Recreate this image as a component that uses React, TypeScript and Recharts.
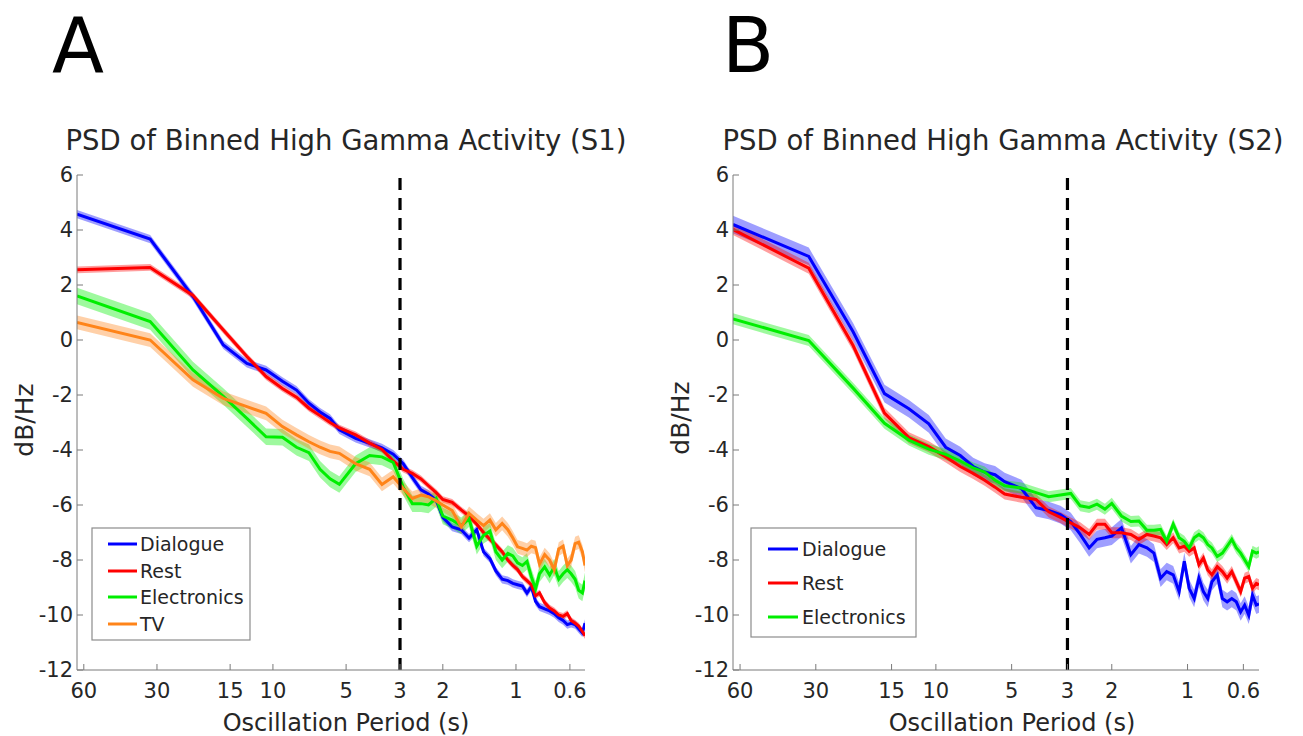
import React from 'react';
import { ComposedChart, Line, Area, XAxis, YAxis, ReferenceLine } from 'recharts';

// oscillation period (s) of each spectral bin, 64 / k
const periods = [
  64, 32, 21.33, 16, 12.8, 10.67, 9.14, 8, 7.11, 6.4, 5.82, 5.33,
  4.57, 4, 3.56, 3.2, 2.91, 2.67, 2.46, 2.29, 2.13, 2,
  1.83, 1.68, 1.56, 1.45, 1.36, 1.28, 1.21, 1.14, 1.08, 1.03,
  0.985, 0.941, 0.901, 0.865, 0.831, 0.8, 0.762, 0.727, 0.696, 0.667,
  0.64, 0.615, 0.593, 0.571, 0.552, 0.533, 0.52,
];
const periodTicks = [60, 30, 15, 10, 5, 3, 2, 1, 0.6];
const dbTicks = [-12, -10, -8, -6, -4, -2, 0, 2, 4, 6];

// S1 (dB/Hz)
const s1Dialogue = [
  4.58, 3.67, 1.58, -0.18, -0.85, -1.09, -1.5, -1.82, -2.3, -2.62, -2.85, -3.27,
  -3.58, -3.76, -3.92, -4.15, -4.5, -5.0, -5.45, -5.6, -5.82, -6.45,
  -6.8, -6.9, -7.2, -6.9, -7.7, -7.95, -8.4, -8.7, -8.75, -8.85,
  -8.9, -8.95, -9.2, -8.97, -9.5, -9.7, -9.78, -9.85, -9.95, -10.1,
  -10.2, -10.35, -10.3, -10.35, -10.5, -10.65, -10.3,
];
const s1Rest = [
  2.55, 2.64, 1.62, 0.36, -0.6, -1.33, -1.76, -2.08, -2.48, -2.75, -3.0, -3.2,
  -3.45, -3.75, -3.98, -4.4, -4.7, -4.85, -5.05, -5.3, -5.55, -5.8,
  -5.9, -6.18, -6.4, -6.7, -7.0, -7.25, -7.45, -7.7, -8.0, -8.2,
  -8.35, -8.6, -8.75, -8.9, -9.3, -9.2, -9.55, -9.75, -9.85, -10.0,
  -10.05, -9.95, -10.2, -10.3, -10.4, -10.6, -10.75,
];
const s1Electronics = [
  1.6, 0.67, -1.09, -2.05, -2.85, -3.52, -3.54, -3.9, -4.1, -4.7, -5.05, -5.25,
  -4.5, -4.2, -4.25, -4.45, -5.35, -5.95, -5.95, -6.0, -5.76, -6.4,
  -6.55, -6.75, -6.5, -7.5, -7.1, -6.95, -7.7, -8.0, -7.76, -7.85,
  -8.1, -8.2, -8.05, -8.6, -9.05, -8.5, -8.25, -8.55, -8.25, -8.7,
  -8.5, -8.35, -8.5, -8.7, -9.1, -9.2, -8.75,
];
const s1TV = [
  0.64, 0.0, -1.45, -2.12, -2.42, -2.67, -3.15, -3.45, -3.7, -3.9, -4.05, -4.12,
  -4.5, -4.7, -5.25, -4.97, -5.4, -5.76, -5.64, -5.7, -5.85, -6.0,
  -6.2, -6.8, -6.3, -6.55, -6.75, -6.55, -6.9, -6.67, -6.9, -7.2,
  -7.52, -7.58, -7.64, -7.5, -7.55, -8.15, -7.8, -8.0, -8.36, -7.6,
  -7.5, -8.2, -8.0, -7.4, -7.35, -7.7, -8.2,
];

// S2 (dB/Hz)
const s2Dialogue = [
  4.2, 3.04, 0.3, -1.95, -2.5, -3.05, -3.9, -4.2, -4.6, -4.8, -4.9, -5.15,
  -5.4, -6.1, -6.2, -6.35, -6.6, -7.07, -7.56, -7.25, -7.19, -7.13,
  -6.83, -7.81, -7.44, -7.56, -7.75, -8.66, -8.42, -8.54, -9.15, -8.05,
  -9.03, -9.4, -8.66, -9.15, -9.4, -8.79, -8.54, -9.4, -9.52, -9.4,
  -9.52, -9.89, -9.64, -10.01, -9.28, -9.64, -9.6,
];
const s2Rest = [
  4.02, 2.61, -0.2, -2.66, -3.55, -3.88, -4.25, -4.6, -4.85, -5.1, -5.35, -5.6,
  -5.72, -5.8, -6.25, -6.45, -6.65, -6.83, -7.07, -6.7, -6.7, -7.01,
  -7.01, -7.07, -7.25, -7.07, -7.13, -7.19, -7.44, -7.19, -7.56, -7.5,
  -7.68, -7.56, -8.17, -7.93, -8.36, -8.54, -8.24, -8.42, -8.66, -8.42,
  -8.79, -9.15, -8.66, -8.6, -9.03, -8.85, -8.9,
];
const s2Electronics = [
  0.77, -0.02, -1.75, -3.03, -3.64, -3.97, -4.16, -4.4, -4.65, -4.8, -5.1, -5.3,
  -5.38, -5.55, -5.7, -5.64, -5.58, -6.03, -6.09, -5.97, -6.15, -5.94,
  -6.4, -6.6, -6.58, -6.92, -6.92, -6.89, -7.32, -6.7, -7.19, -7.32,
  -7.56, -7.19, -7.07, -7.19, -7.44, -7.56, -7.87, -7.75, -7.5, -7.25,
  -7.56, -7.75, -7.99, -8.24, -7.68, -7.75, -7.7,
];

// half width of the shaded error band (dB)
const s1Spread = [0.15, 0.12, 0.3, 0.25];
const s2Spread = [0.32, 0.2, 0.2];

const COLORS: Record<string, string> = {
  Dialogue: '#0000ff',
  Rest: '#ff0000',
  Electronics: '#00ee00',
  TV: '#ff8419',
};

const AXIS = '#7a7a7a';
const TEXT = '#262626';
const FONT = '"DejaVu Sans", Verdana, sans-serif';

type Series = { name: string; values: number[]; spread: number };

const s1Series: Series[] = [
  { name: 'Dialogue', values: s1Dialogue, spread: s1Spread[0] },
  { name: 'Rest', values: s1Rest, spread: s1Spread[1] },
  { name: 'Electronics', values: s1Electronics, spread: s1Spread[2] },
  { name: 'TV', values: s1TV, spread: s1Spread[3] },
];
const s2Series: Series[] = [
  { name: 'Dialogue', values: s2Dialogue, spread: s2Spread[0] },
  { name: 'Rest', values: s2Rest, spread: s2Spread[1] },
  { name: 'Electronics', values: s2Electronics, spread: s2Spread[2] },
];

function buildRows(series: Series[]) {
  return periods.map((p, i) => {
    const row: any = { period: p };
    series.forEach((s, j) => {
      row['v' + j] = s.values[i];
      row['b' + j] = [s.values[i] - s.spread, s.values[i] + s.spread];
    });
    return row;
  });
}

interface PanelProps {
  series: Series[];
  left: number;
  width: number;
  plotLeft: number;
  plotRight: number;
}

function PsdPanel({ series, left, width, plotLeft, plotRight }: PanelProps) {
  const rows = buildRows(series);
  const tickStyle = { fill: TEXT, fontSize: 21, fontFamily: FONT };
  return (
    <div style={{ position: 'absolute', left, top: 0 }}>
      <ComposedChart
        width={width}
        height={736}
        data={rows}
        margin={{ top: 175, right: width - plotRight, left: 0, bottom: 0 }}
      >
        <XAxis
          dataKey="period"
          type="number"
          scale="log"
          domain={[0.52, 64]}
          reversed
          allowDataOverflow
          ticks={periodTicks}
          interval={0}
          height={66}
          tickSize={-6}
          tickMargin={19}
          stroke={AXIS}
          tick={tickStyle}
        />
        <XAxis
          xAxisId="top"
          orientation="top"
          dataKey="period"
          type="number"
          scale="log"
          domain={[0.52, 64]}
          reversed
          allowDataOverflow
          ticks={periodTicks}
          interval={0}
          height={0}
          tickSize={-6}
          stroke={AXIS}
          tick={false}
        />
        <YAxis
          type="number"
          domain={[-12, 6]}
          ticks={dbTicks}
          interval={0}
          width={plotLeft}
          tickSize={-6}
          tickMargin={10}
          stroke={AXIS}
          tick={tickStyle}
        />
        <YAxis
          yAxisId="right"
          orientation="right"
          type="number"
          domain={[-12, 6]}
          ticks={dbTicks}
          interval={0}
          width={0}
          tickSize={-6}
          stroke={AXIS}
          tick={false}
        />
        {series.map((s, j) => (
          <Area
            key={'b' + j}
            dataKey={'b' + j}
            type="linear"
            stroke="none"
            fill={COLORS[s.name]}
            fillOpacity={0.38}
            isAnimationActive={false}
          />
        ))}
        {series.map((s, j) => (
          <Line
            key={'v' + j}
            dataKey={'v' + j}
            type="linear"
            stroke={COLORS[s.name]}
            strokeWidth={3}
            dot={false}
            activeDot={false}
            isAnimationActive={false}
          />
        ))}
        <ReferenceLine x={3} stroke="#000" strokeWidth={3.2} strokeDasharray="12 8" />
      </ComposedChart>
    </div>
  );
}

function LegendBox({ x, y, w, h, names, rowY, lineX, textX }: any) {
  return (
    <g>
      <rect x={x} y={y} width={w} height={h} fill="#fff" stroke="#8c8c8c" strokeWidth={1.2} />
      {names.map((n: string, i: number) => (
        <g key={n}>
          <line x1={lineX[0]} x2={lineX[1]} y1={rowY[i]} y2={rowY[i]} stroke={COLORS[n]} strokeWidth={3} />
          <text x={textX} y={rowY[i] + 7} fontSize={19} fill={TEXT}>{n}</text>
        </g>
      ))}
    </g>
  );
}

export default function App() {
  return (
    <div style={{ position: 'absolute', left: 0, top: 0, width: 1303, height: 736, background: '#fff', fontFamily: FONT }}>
      <PsdPanel series={s1Series} left={0} width={600} plotLeft={77} plotRight={585} />
      <PsdPanel series={s2Series} left={640} width={640} plotLeft={93} plotRight={619} />
      <svg width={1303} height={736} style={{ position: 'absolute', left: 0, top: 0, pointerEvents: 'none', fontFamily: FONT }}>
        <text x={52} y={72} fontSize={76} fill="#000">A</text>
        <text x={722} y={72} fontSize={76} fill="#000">B</text>
        <text x={346} y={150} fontSize={27.5} fill={TEXT} textAnchor="middle">PSD of Binned High Gamma Activity (S1)</text>
        <text x={1003} y={150} fontSize={27.5} fill={TEXT} textAnchor="middle">PSD of Binned High Gamma Activity (S2)</text>
        <text transform="translate(33,420) rotate(-90)" fontSize={25} fill={TEXT} textAnchor="middle">dB/Hz</text>
        <text transform="translate(689,418) rotate(-90)" fontSize={25} fill={TEXT} textAnchor="middle">dB/Hz</text>
        <text x={346} y={731} fontSize={24} fill={TEXT} textAnchor="middle">Oscillation Period (s)</text>
        <text x={1012} y={731} fontSize={24} fill={TEXT} textAnchor="middle">Oscillation Period (s)</text>
        <LegendBox x={92} y={528} w={158} h={112} names={['Dialogue', 'Rest', 'Electronics', 'TV']}
          rowY={[544, 571, 597, 624]} lineX={[108, 137]} textX={140} />
        <LegendBox x={751} y={528} w={165} h={109} names={['Dialogue', 'Rest', 'Electronics']}
          rowY={[549, 583, 617]} lineX={[768, 798]} textX={802} />
      </svg>
    </div>
  );
}
